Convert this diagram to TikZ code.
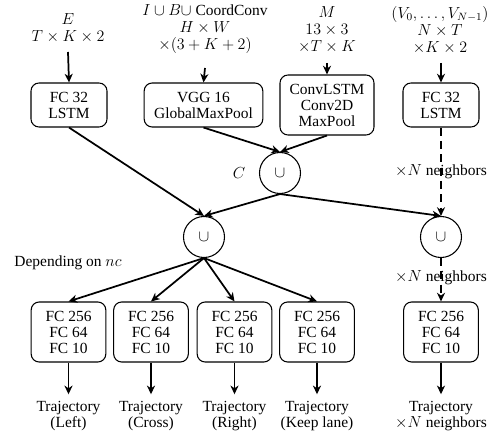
\documentclass[tikz,border=0pt]{standalone}
\usepackage{fontspec}
\setmainfont{Liberation Serif}
\usetikzlibrary{arrows.meta}
\begin{document}
\begin{tikzpicture}[x=0.75pt,y=-0.75pt,
  every node/.style={font=\fontsize{11.6pt}{12pt}\selectfont},
  lbl/.style={align=center, inner sep=0pt, font=\fontsize{11.6pt}{12.6pt}\selectfont},
  box/.style={draw, rounded corners=6pt, line width=0.8pt, align=center, inner sep=2pt, minimum height=33pt},
  boxthree/.style={box, minimum height=45pt},
  lowbox/.style={boxthree, minimum width=56pt},
  uni/.style={draw, circle, minimum size=30.75pt, inner sep=0pt, line width=0.8pt},
  traj/.style={align=center, inner sep=5pt},
  arr/.style={line width=1.3pt, -{Stealth[length=6.5pt,width=6pt,inset=2pt]}},
  dsh/.style={arr, dash pattern=on 6pt off 4pt}]
\useasboundingbox (0,0) rectangle (504,438);

% input labels
\node[lbl] (lE) at (68,28.5) {$E$\\$T\times K\times 2$};
\node[lbl] (lI) at (205,29) {$I\cup B\cup$ CoordConv\\$H\times W$\\$\times(3+K+2)$};
\node[lbl] (lM) at (327,29.5) {$M$\\$13\times 3$\\$\times T\times K$};
\node[lbl] (lV) at (440,30) {$(V_0,\ldots,V_{N-1})$\\$N\times T$\\$\times K\times 2$};
\coordinate (sE) at (68,52);
\coordinate (sI) at (205,68);
\coordinate (sM) at (327,63);
\coordinate (sV) at (441,63);

% encoders
\node[box, minimum width=57pt] (b1) at (69,105) {FC 32\\LSTM};
\node[box, minimum width=89pt] (b2) at (203.5,105) {VGG 16\\GlobalMaxPool};
\node[boxthree, minimum width=70.5pt] (b3) at (327,105) {ConvLSTM\\Conv2D\\MaxPool};
\node[box, minimum width=57pt] (b4) at (441,105) {FC 32\\LSTM};

% unions
\node[uni] (uc) at (280,173) {$\cup$};
\node[uni] (um) at (204,237) {$\cup$};
\node[uni] (ur) at (441,237) {$\cup$};

% side labels
\node (cl) at (239,173) {$C$};
\node (dep) at (68,263) {Depending on $nc$};
\node (n1) at (441,172) {$\times N$ neighbors};
\node (n2) at (441,278) {$\times N$ neighbors};

% decoders
\node[lowbox] (d1) at (68.5,332) {FC 256\\FC 64\\FC 10};
\node[lowbox] (d2) at (151,332) {FC 256\\FC 64\\FC 10};
\node[lowbox] (d3) at (234.5,332) {FC 256\\FC 64\\FC 10};
\node[lowbox] (d4) at (317,332) {FC 256\\FC 64\\FC 10};
\node[lowbox] (d5) at (441,332) {FC 256\\FC 64\\FC 10};

% outputs
\node[traj] (t1) at (68.5,416) {Trajectory\\(Left)};
\node[traj] (t2) at (151,416) {Trajectory\\(Cross)};
\node[traj] (t3) at (234.5,416) {Trajectory\\(Right)};
\node[traj] (t4) at (317,416) {Trajectory\\(Keep lane)};
\node[traj] (t5) at (441,416) {Trajectory\\$\times N$ neighbors};

% connectors
\draw[arr] (sE) -- (b1.north);
\draw[arr] (sI) -- (b2.north);
\draw[arr] (sM) -- (b3.north);
\draw[arr] (sV) -- (b4.north);

\draw[arr] (b1.south) -- (um.north);
\draw[arr] (b2.south) -- (uc.north);
\draw[arr] (b3.south) -- (uc.north);
\draw[arr] (uc.south) -- (um.north);
\draw[arr] (uc.south) -- (ur.north);
\draw[dsh] (b4.south) -- (ur.north);
\draw[dsh] (ur.south) -- (d5.north);

\foreach \d in {d1,d2,d3,d4} \draw[arr] (um.south) -- (\d.north);
\foreach \d/\t in {d1/t1,d2/t2,d3/t3,d4/t4,d5/t5} \draw[arr] (\d.south) -- (\t.north);
\end{tikzpicture}
\end{document}
